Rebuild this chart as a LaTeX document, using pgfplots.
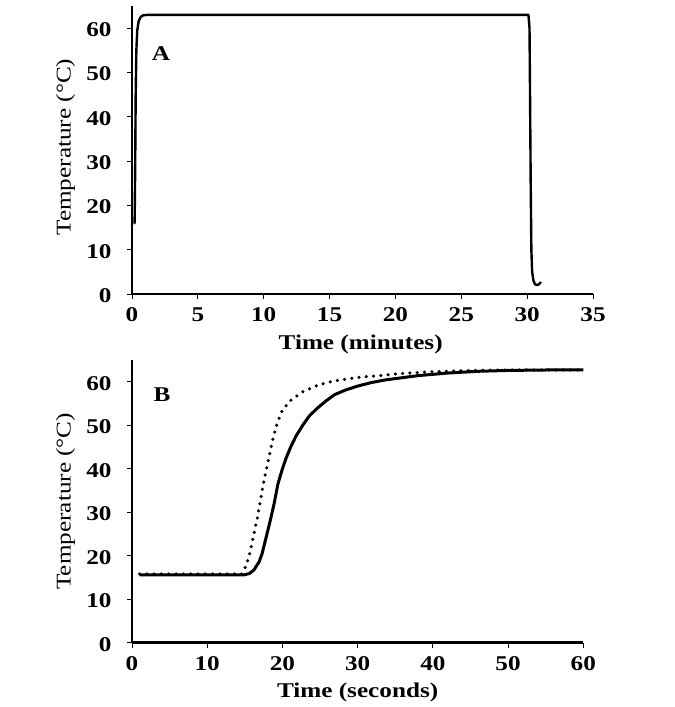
\documentclass[border=0pt]{standalone}
\usepackage{pgfplots}
\pgfplotsset{compat=1.18}
\usepackage{fontspec}
\setmainfont[FakeStretch=1.2]{Liberation Serif}
\newcommand\tfont{\fontsize{21bp}{25bp}\selectfont}
\pgfplotsset{
  tempstyle/.style={
    scale only axis,
    axis lines=left,
    axis line style={-, line width=2.6bp, black},
    tick style={black, line width=0.8bp},
    major tick length=5bp,
    tick align=outside,
    ymin=0, ymax=65,
    ytick={0,10,...,60},
    /pgf/number format/assume math mode=true,
    ticklabel style={font=\tfont\bfseries},
    yticklabel style={xshift=-12bp, yshift=-1.5bp},
    xticklabel style={yshift=-5bp},
    label style={font=\tfont},
    ylabel={Temperature (°C)},
    ylabel style={anchor=center, rotate=0},
    xlabel style={anchor=base, font=\tfont\bfseries},
    clip=false,
  }
}
\begin{document}
\begin{tikzpicture}
\useasboundingbox (0,0) rectangle (675bp,707bp);
% Panel A
\begin{axis}[tempstyle,
  at={(132bp,413bp)}, anchor=south west,
  width=461bp, height=288bp,
  xmin=0, xmax=35, xtick={0,5,...,35},
  xlabel={Time (minutes)},
  xlabel style={at={(axis description cs:0.496,-0.1944)}},
  ylabel style={at={(axis description cs:-0.1443,0.51)}},
]
\addplot[black, line width=2.4bp, line join=round] coordinates {
(0.12,16.0) (0.20,16.0) (0.24,28) (0.28,45) (0.33,55) (0.40,59.5) (0.50,61.5)
(0.65,62.5) (0.85,62.9) (1.2,63.0) (5,63.0) (10,63.0) (15,63.0) (20,63.0)
(25,63.0) (30.1,63.0) (30.18,60) (30.22,45) (30.27,25) (30.32,10) (30.38,5)
(30.48,3.0) (30.6,2.2) (30.75,2.0) (30.9,2.2) (31.05,2.7)
};
\node[font=\tfont\bfseries, anchor=center] at (axis cs:2.2,54.3) {A};
\end{axis}
% Panel B
\begin{axis}[tempstyle,
  at={(132bp,64.3bp)}, anchor=south west,
  width=451.3bp, height=282.7bp,
  xmin=0, xmax=60, xtick={0,10,...,60},
  xlabel={Time (seconds)},
  xlabel style={at={(axis description cs:0.5,-0.1956)}},
  ylabel style={at={(axis description cs:-0.1474,0.5)}},
]
\addplot[black, line width=3.5bp, line cap=round, dash pattern=on 0pt off 7.3bp] coordinates {
(1,15.8) (5,15.8) (10,15.8) (14.6,15.8) (15.1,17.5) (15.6,20) (16.2,25) (16.7,29)
(17.2,34) (17.6,37.8) (18.2,42.5) (18.7,46.6) (19.3,50.5) (20,53.5) (21.1,55.7)
(22.7,57.7) (24.7,59.2) (26.9,60.2) (30,61.0) (33.6,61.5) (35.8,61.9) (40,62.3)
(45,62.6) (50,62.7) (55,62.7) (60,62.7)
};
\addplot[black, line width=3bp, line join=round] coordinates {
(1,15.6) (5,15.6) (10,15.6) (14.9,15.6) (15.6,15.9) (16.2,16.7) (16.9,18.6)
(17.3,20.5) (17.8,24) (18.3,27.5) (18.9,32) (19.4,36.5) (20.0,40) (20.5,42.5)
(21.1,45) (21.8,47.5) (22.7,50) (23.6,52.2) (24.7,54) (25.8,55.6) (26.9,57)
(28.4,58.1) (30,59) (31.8,59.8) (33.6,60.4) (35.8,60.9) (38,61.4)
(42,62.0) (46,62.4) (50,62.6) (55,62.7) (60,62.7)
};
\node[font=\tfont\bfseries, anchor=center] at (axis cs:4.0,57) {B};
\end{axis}
\end{tikzpicture}
\end{document}
